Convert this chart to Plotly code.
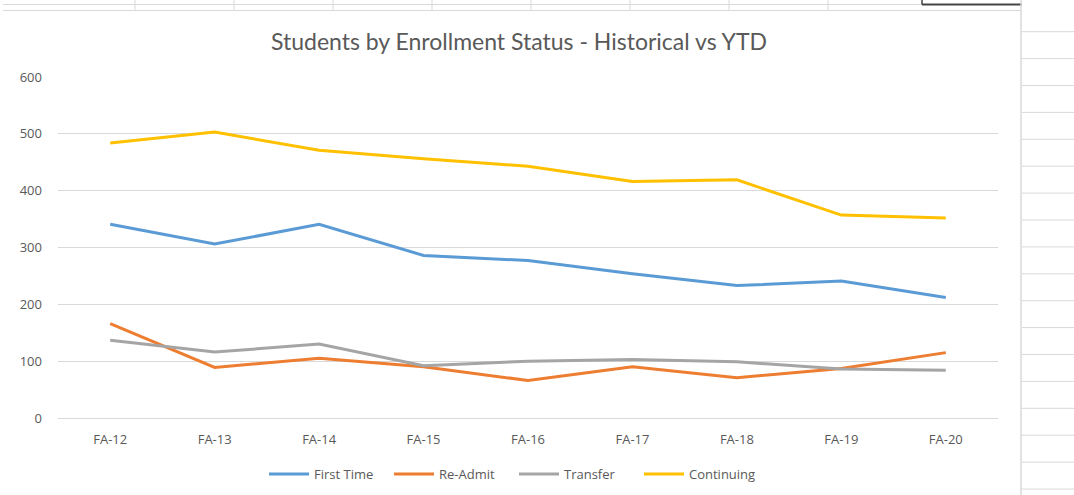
import plotly.graph_objects as go

categories = ["FA-12", "FA-13", "FA-14", "FA-15", "FA-16", "FA-17", "FA-18", "FA-19", "FA-20"]
first_time = [341, 306, 341, 286, 277, 254, 233, 241, 212]
re_admit = [166, 89, 105, 90, 66, 90, 71, 87, 115]
transfer = [137, 116, 130, 92, 100, 103, 99, 86, 84]
continuing = [484, 503, 471, 456, 443, 416, 419, 357, 352]

series_names = ["First Time", "Re-Admit", "Transfer", "Continuing"]
series_values = [first_time, re_admit, transfer, continuing]
series_colors = ["#5B9BD5", "#ED7D31", "#A5A5A5", "#FFC000"]

W, H = 1074, 495
L, R, T, B = 58, 76, 77, 77
PW, PH = W - L - R, H - T - B

FONT = "'Open Sans', Lato, sans-serif"
TITLE_FONT = "Lato, 'Open Sans', sans-serif"
TXT = "#595959"

fig = go.Figure()
for name, vals, col in zip(series_names, series_values, series_colors):
    fig.add_trace(go.Scatter(x=categories, y=vals, mode="lines", name=name,
                             line=dict(color=col, width=3)))

def px(x):
    return (x - L) / PW

def py(y):
    return (H - B - y) / PH

shapes = []
grid_col = "#D9D9D9"
# spreadsheet gridlines at top
for yy in (4.5, 10.5):
    shapes.append(dict(type="line", xref="paper", yref="paper", x0=px(3), x1=px(1021),
                       y0=py(yy), y1=py(yy), line=dict(color=grid_col, width=1)))
for xx in (135, 234, 333, 432, 531, 630, 729, 828):
    shapes.append(dict(type="line", xref="paper", yref="paper", x0=px(xx), x1=px(xx),
                       y0=py(0), y1=py(10.5), line=dict(color=grid_col, width=1)))
# selected cell border top-right
shapes.append(dict(type="line", xref="paper", yref="paper", x0=px(922), x1=px(1022),
                   y0=py(4.5), y1=py(4.5), line=dict(color="#444444", width=2)))
shapes.append(dict(type="line", xref="paper", yref="paper", x0=px(922), x1=px(922),
                   y0=py(0), y1=py(4.5), line=dict(color="#444444", width=1.5)))
# chart right border
shapes.append(dict(type="line", xref="paper", yref="paper", x0=px(1021), x1=px(1021),
                   y0=py(0), y1=py(495), line=dict(color=grid_col, width=1.5)))
# spreadsheet rows on right side
row_y = 31.7
while row_y < 495:
    shapes.append(dict(type="line", xref="paper", yref="paper", x0=px(1022), x1=px(1074),
                       y0=py(row_y), y1=py(row_y), line=dict(color=grid_col, width=1)))
    row_y += 26.9

fig.update_layout(
    width=W, height=H,
    margin=dict(l=L, r=R, t=T, b=B, pad=0, autoexpand=False),
    paper_bgcolor="white", plot_bgcolor="white",
    font=dict(family=FONT, color=TXT, size=13),
    title=dict(text="Students by Enrollment Status - Historical vs YTD",
               x=519 / W, xref="container", xanchor="center",
               y=1 - 42 / H, yref="container", yanchor="middle",
               font=dict(family=TITLE_FONT, size=23, color=TXT)),
    showlegend=True,
    legend=dict(orientation="h", x=514 / W, xref="container", xanchor="center",
                y=1 - 474 / H, yref="container", yanchor="middle",
                font=dict(family=FONT, size=13, color=TXT), bgcolor="rgba(0,0,0,0)",
                itemwidth=40, tracegroupgap=0, entrywidth=70, entrywidthmode="pixels"),
    xaxis=dict(type="category", range=[-0.5, len(categories) - 0.5], automargin=False,
               showgrid=False, showline=True, linecolor=grid_col,
               linewidth=1, ticks="", tickfont=dict(size=13, color=TXT),
               ticklabelstandoff=9, zeroline=False, fixedrange=True),
    yaxis=dict(range=[0, 600], dtick=100, automargin=False, showgrid=True,
               gridcolor=grid_col, gridwidth=1,
               zeroline=False, showline=False, ticks="", tickfont=dict(size=13, color=TXT),
               ticklabelstandoff=15, fixedrange=True),
    shapes=shapes,
)

fig.write_html("out.html", config={"displayModeBar": False},
               post_script="document.body.style.margin='0';")
